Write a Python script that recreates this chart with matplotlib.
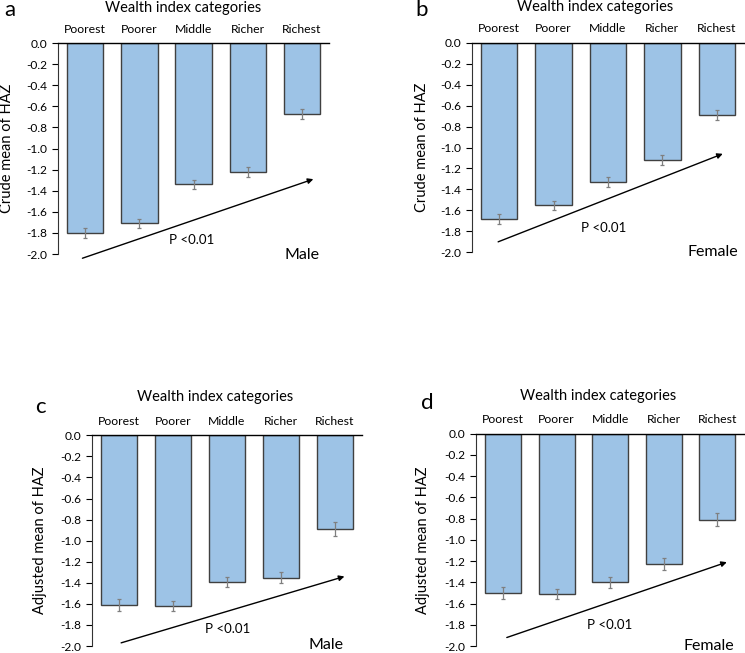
import matplotlib
matplotlib.use('Agg')
from matplotlib import pyplot as plt
from matplotlib.ticker import FixedLocator, FormatStrFormatter

plt.rcParams['font.family'] = ['Lato', 'DejaVu Sans']

# Data
categories = ["Poorest", "Poorer", "Middle", "Richer", "Richest"]

crude_male = [-1.80, -1.71, -1.34, -1.22, -0.67]
crude_male_err = [0.05, 0.045, 0.045, 0.045, 0.047]
crude_female = [-1.68, -1.55, -1.33, -1.12, -0.69]
crude_female_err = [0.048, 0.043, 0.046, 0.046, 0.052]
adj_male = [-1.61, -1.62, -1.39, -1.35, -0.89]
adj_male_err = [0.06, 0.048, 0.048, 0.054, 0.065]
adj_female = [-1.50, -1.51, -1.40, -1.23, -0.81]
adj_female_err = [0.056, 0.049, 0.049, 0.055, 0.063]

# trend arrows (start, end) in data coords
arrow_a = [(-0.05, -2.04), (4.21, -1.29)]
arrow_b = [(-0.02, -1.90), (4.11, -1.06)]
arrow_c = [(0.04, -1.97), (4.18, -1.34)]
arrow_d = [(0.07, -1.92), (4.18, -1.21)]

bar_color = '#9DC3E6'
edge_color = '#404040'


def panel(rect, vals, errs, letter, ylabel, sex, arrow, ptxt, sextxt,
          title_pos, ylab_x, letter_pos):
    ax = fig.add_axes(rect)
    x = list(range(len(categories)))
    ax.bar(x, vals, width=0.67, color=bar_color, edgecolor=edge_color,
           linewidth=1.0, zorder=2)
    ax.errorbar(x, vals, yerr=errs, fmt='none', ecolor='#7f7f7f',
                elinewidth=0.9, capsize=1.6, capthick=0.9, zorder=3)
    ax.set_xlim(-0.5, 4.5)
    ax.set_ylim(-2.0, 0.0)
    ticks = [round(-0.2 * i, 1) for i in range(11)]
    ticks = [0.0 if t == 0 else t for t in ticks]
    ax.yaxis.set_major_locator(FixedLocator(ticks))
    ax.yaxis.set_major_formatter(FormatStrFormatter('%.1f'))
    ax.xaxis.tick_top()
    ax.set_xticks(x)
    ax.set_xticklabels(categories, fontsize=8.8)
    ax.tick_params(axis='x', length=0, pad=6)
    ax.tick_params(axis='y', length=4, width=0.8, pad=4, labelsize=8.6)
    for s in ['right', 'bottom']:
        ax.spines[s].set_visible(False)
    ax.spines['top'].set_linewidth(1.0)
    ax.spines['left'].set_linewidth(0.8)
    ax.spines['left'].set_color('#333333')
    ax.set_ylabel(ylabel, fontsize=10.5)
    ax.yaxis.set_label_coords(ylab_x, 0.5)
    ax.text(title_pos[0], title_pos[1], "Wealth index categories",
            transform=ax.transAxes, ha='center', va='center', fontsize=10.5)
    fig.text(letter_pos[0], letter_pos[1], letter, fontsize=16,
             ha='center', va='center')
    ax.annotate('', xy=arrow[1], xytext=arrow[0], annotation_clip=False,
                arrowprops=dict(arrowstyle='-|>', color='black', lw=1.0,
                                mutation_scale=8, shrinkA=0, shrinkB=0))
    ax.text(ptxt[0], ptxt[1], "P <0.01", ha='center', va='center',
            fontsize=9.5)
    ax.text(sextxt[0], sextxt[1], sex, ha='center', va='center',
            fontsize=11.5, clip_on=False)
    return ax


fig = plt.figure(figsize=(7.45, 6.53), dpi=100)

panel([0.0779, 0.611, 0.3638, 0.323], crude_male, crude_male_err, "a",
      "Crude mean of HAZ", "Male", arrow_a, (1.97, -1.87), (4.0, -2.01),
      (0.46, 1.166), -0.162, (10 / 745, 1 - 10 / 653))
panel([0.6336, 0.6136, 0.365, 0.321], crude_female, crude_female_err, "b",
      "Crude mean of HAZ", "Female", arrow_b, (1.92, -1.77), (3.92, -2.0),
      (0.453, 1.172), -0.158, (422 / 745, 1 - 10 / 653))
panel([0.1235, 0.0107, 0.362, 0.3227], adj_male, adj_male_err, "c",
      "Adjusted mean of HAZ", "Male", arrow_c, (2.02, -1.84), (3.84, -1.99),
      (0.456, 1.183), -0.167, (40 / 745, 1 - 407 / 653))
panel([0.6393, 0.0107, 0.3593, 0.3251], adj_female, adj_female_err, "d",
      "Adjusted mean of HAZ", "Female", arrow_d, (1.99, -1.80), (3.85, -2.0),
      (0.457, 1.179), -0.173, (427 / 745, 1 - 403 / 653))

plt.savefig("out.png", dpi=100)
